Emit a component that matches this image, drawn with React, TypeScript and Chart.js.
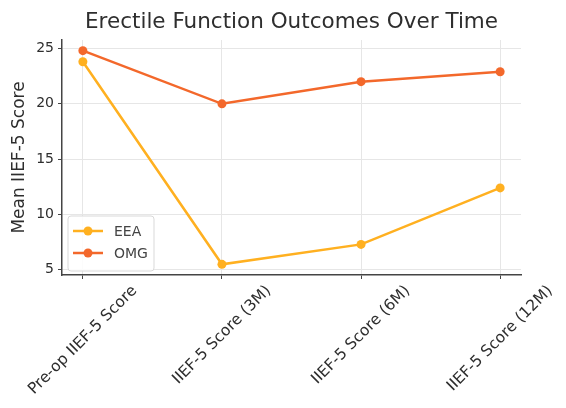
import React, { useEffect, useRef } from "react";
import { Chart, registerables } from "chart.js";

Chart.register(...registerables);

const categories = [
  "Pre-op IIEF-5 Score",
  "IIEF-5 Score (3M)",
  "IIEF-5 Score (6M)",
  "IIEF-5 Score (12M)",
];
const eeaValues = [23.8, 5.5, 7.3, 12.4];
const omgValues = [24.8, 20.0, 22.0, 22.9];
const yTicks = [5, 10, 15, 20, 25];
const seriesNames = ["EEA", "OMG"];
const chartTitle = "Erectile Function Outcomes Over Time";
const yTitle = "Mean IIEF-5 Score";

const FONT = "'DejaVu Sans', sans-serif";
const EEA_COLOR = "#FFB020";
const OMG_COLOR = "#F3682B";
const TEXT = "#2e2e2e";

export default function App() {
  const ref = useRef<HTMLCanvasElement | null>(null);

  useEffect(() => {
    document.body.style.margin = "0";
    const canvas = ref.current;
    if (!canvas) return;

    const all = [...eeaValues, ...omgValues];
    const lo = Math.min(...all);
    const hi = Math.max(...all);
    const m = (hi - lo) * 0.05;

    const overlay = {
      id: "overlay",
      afterDatasetsDraw(chart: any) {
        const ctx = chart.ctx;
        const area = chart.chartArea;
        // legend
        const bx = area.left + 6;
        const by = area.bottom - 59;
        const bw = 86;
        const bh = 55;
        ctx.save();
        ctx.beginPath();
        if (ctx.roundRect) ctx.roundRect(bx, by, bw, bh, 3);
        else ctx.rect(bx, by, bw, bh);
        ctx.fillStyle = "rgba(255,255,255,0.85)";
        ctx.fill();
        ctx.strokeStyle = "#d9d9d9";
        ctx.lineWidth = 1;
        ctx.stroke();
        const colors = [EEA_COLOR, OMG_COLOR];
        seriesNames.forEach((name, i) => {
          const y = by + 15 + i * 22;
          ctx.strokeStyle = colors[i];
          ctx.lineWidth = 2.5;
          ctx.beginPath();
          ctx.moveTo(bx + 5, y);
          ctx.lineTo(bx + 35, y);
          ctx.stroke();
          ctx.fillStyle = colors[i];
          ctx.beginPath();
          ctx.arc(bx + 20, y, 4.5, 0, Math.PI * 2);
          ctx.fill();
          ctx.fillStyle = "#444";
          ctx.font = `14px ${FONT}`;
          ctx.textAlign = "left";
          ctx.textBaseline = "middle";
          ctx.fillText(name, bx + 46, y + 1);
        });
        ctx.restore();
      },
      afterDraw(chart: any) {
        const ctx = chart.ctx;
        const area = chart.chartArea;
        const xs = chart.scales.x;
        ctx.save();
        // title
        ctx.fillStyle = TEXT;
        ctx.font = `21.5px ${FONT}`;
        ctx.textAlign = "center";
        ctx.textBaseline = "middle";
        ctx.fillText(chartTitle, (area.left + area.right) / 2, 22);
        // x labels rotated 45, centered on ticks
        const fs = 15.5;
        ctx.font = `${fs}px ${FONT}`;
        categories.forEach((lab, i) => {
          const x = xs.getPixelForValue(i);
          const w = ctx.measureText(lab).width;
          const side = (w + fs) * Math.SQRT1_2;
          const cy = area.bottom + 8 + side / 2;
          ctx.save();
          ctx.translate(x, cy);
          ctx.rotate(-Math.PI / 4);
          ctx.textAlign = "center";
          ctx.textBaseline = "middle";
          ctx.fillText(lab, 0, 0);
          ctx.restore();
        });
        ctx.restore();
      },
    };

    const ds = (label: string, values: number[], color: string) => ({
      label,
      data: values.map((v, i) => ({ x: i, y: v })),
      borderColor: color,
      backgroundColor: color,
      borderWidth: 2.5,
      pointRadius: 4.5,
      pointHoverRadius: 4.5,
      pointBorderWidth: 0,
      tension: 0,
    });

    const chart = new Chart(canvas, {
      type: "line",
      data: {
        datasets: [
          ds(seriesNames[0], eeaValues, EEA_COLOR),
          ds(seriesNames[1], omgValues, OMG_COLOR),
        ],
      },
      options: {
        animation: false,
        responsive: false,
        maintainAspectRatio: false,
        devicePixelRatio: 1,
        layout: { padding: { left: 8, top: 40, right: 45, bottom: 0 } },
        plugins: {
          legend: { display: false },
          title: { display: false },
          tooltip: { enabled: false },
        },
        scales: {
          x: {
            type: "linear",
            min: -0.15,
            max: categories.length - 1 + 0.15,
            afterBuildTicks: (s: any) => {
              s.ticks = categories.map((_, i) => ({ value: i }));
            },
            afterFit: (s: any) => {
              s.height = 133;
            },
            ticks: { display: false },
            grid: {
              color: "#e6e6e6",
              lineWidth: 1,
              drawTicks: true,
              tickLength: 4,
              tickColor: "#444",
            },
            border: { display: true, color: "#444", width: 1.5 },
          },
          y: {
            type: "linear",
            min: lo - m,
            max: hi + m,
            afterBuildTicks: (s: any) => {
              s.ticks = yTicks.map((v) => ({ value: v }));
            },
            afterFit: (s: any) => {
              s.width = 54;
            },
            ticks: {
              color: TEXT,
              font: { family: FONT, size: 14 },
              padding: 4,
              callback: (v: any) => String(v),
            },
            grid: {
              color: "#e6e6e6",
              lineWidth: 1,
              drawTicks: true,
              tickLength: 4,
              tickColor: "#444",
            },
            border: { display: true, color: "#444", width: 1.5 },
            title: {
              display: true,
              text: yTitle,
              color: TEXT,
              font: { family: FONT, size: 17 },
              padding: { top: 1, bottom: 0 },
            },
          },
        },
      },
      plugins: [overlay],
    });

    return () => chart.destroy();
  }, []);

  return (
    <div style={{ width: 566, height: 408, background: "#fff" }}>
      <canvas ref={ref} width={566} height={408} style={{ display: "block" }} />
    </div>
  );
}
